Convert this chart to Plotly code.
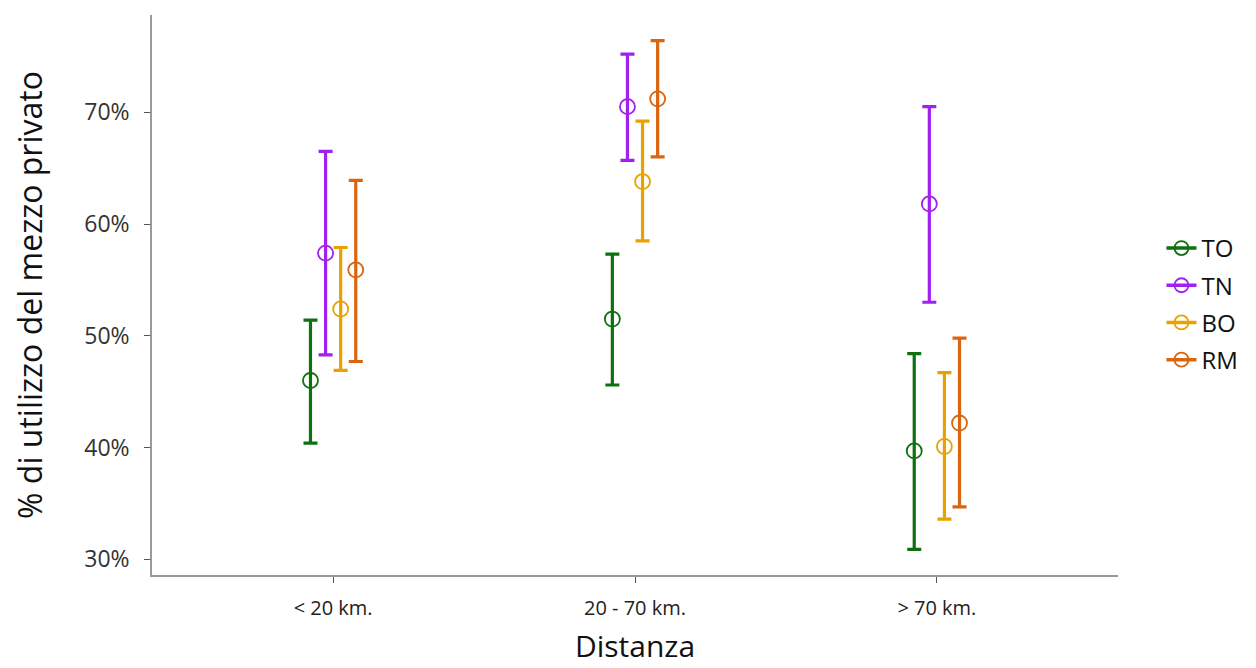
import plotly.graph_objects as go

categories = ["< 20 km.", "20 - 70 km.", "> 70 km."]
series = ["TO", "TN", "BO", "RM"]
y_ticks = [30, 40, 50, 60, 70]
y_ticktext = ["30%", "40%", "50%", "60%", "70%"]

# point estimates (%)
TO_mid = [46.0, 51.5, 39.7]
TN_mid = [57.4, 70.5, 61.8]
BO_mid = [52.4, 63.8, 40.1]
RM_mid = [55.9, 71.2, 42.2]

# lower bounds (%)
TO_lo = [40.4, 45.6, 30.9]
TN_lo = [48.3, 65.7, 53.0]
BO_lo = [46.9, 58.5, 33.6]
RM_lo = [47.7, 66.0, 34.7]

# upper bounds (%)
TO_hi = [51.4, 57.3, 48.4]
TN_hi = [66.5, 75.2, 70.5]
BO_hi = [57.9, 69.2, 46.7]
RM_hi = [63.9, 76.4, 49.8]

colors = {"TO": "#0E700E", "TN": "#A020F0", "BO": "#E8A200", "RM": "#D96510"}
data = {
    "TO": (TO_lo, TO_mid, TO_hi),
    "TN": (TN_lo, TN_mid, TN_hi),
    "BO": (BO_lo, BO_mid, BO_hi),
    "RM": (RM_lo, RM_mid, RM_hi),
}

dodge = 0.2
n = len(series)
fig = go.Figure()
for i, s in enumerate(series):
    lo, mid, hi = data[s]
    off = -dodge / 2 + dodge / n * (i + 0.5)
    xs = [j + 1 + off for j in range(len(categories))]
    fig.add_trace(go.Scatter(
        x=xs, y=mid, mode="markers", name=s, showlegend=False,
        legendgroup=s,
        marker=dict(symbol="circle-open", size=15, color=colors[s], line=dict(width=1.8)),
        error_y=dict(type="data", symmetric=False,
                     array=[h - m for h, m in zip(hi, mid)],
                     arrayminus=[m - l for m, l in zip(mid, lo)],
                     color=colors[s], thickness=3.2, width=7),
    ))
    fig.add_trace(go.Scatter(
        x=[None], y=[None], mode="lines+markers", name=s, legendgroup=s,
        line=dict(color=colors[s], width=3.5),
        marker=dict(symbol="circle-open", size=14, color=colors[s], line=dict(width=1.8)),
    ))

fig.update_layout(
    width=1256, height=668,
    paper_bgcolor="white", plot_bgcolor="white",
    margin=dict(l=144, r=146, t=7, b=101),
    font=dict(family="Open Sans", color="#222"),
    legend=dict(x=1.045, y=0.484, xanchor="left", yanchor="middle",
                font=dict(size=24, color="#111"), traceorder="grouped",
                tracegroupgap=3),
    xaxis=dict(
        range=[0.4, 3.6], tickvals=[1, 2, 3], ticktext=categories,
        showgrid=False, zeroline=False, showline=True, linecolor="#9a9a9a", linewidth=1.5,
        ticks="outside", ticklen=6, tickcolor="#555", tickwidth=1,
        tickfont=dict(size=20, color="#222", family="Open Sans"), ticklabelstandoff=8,
        title=dict(text="Distanza", font=dict(size=30, color="#111"), standoff=16),
    ),
    yaxis=dict(
        range=[28.6, 78.7], tickvals=y_ticks, ticktext=y_ticktext,
        showgrid=False, zeroline=False, showline=True, linecolor="#9a9a9a", linewidth=1.5,
        ticks="outside", ticklen=6, tickcolor="#555", tickwidth=1,
        tickfont=dict(size=23, color="#333"), ticklabelstandoff=10,
        title=dict(text="% di utilizzo del mezzo privato", font=dict(size=32, color="#111"), standoff=32),
    ),
)
fig.write_html("out.html")
